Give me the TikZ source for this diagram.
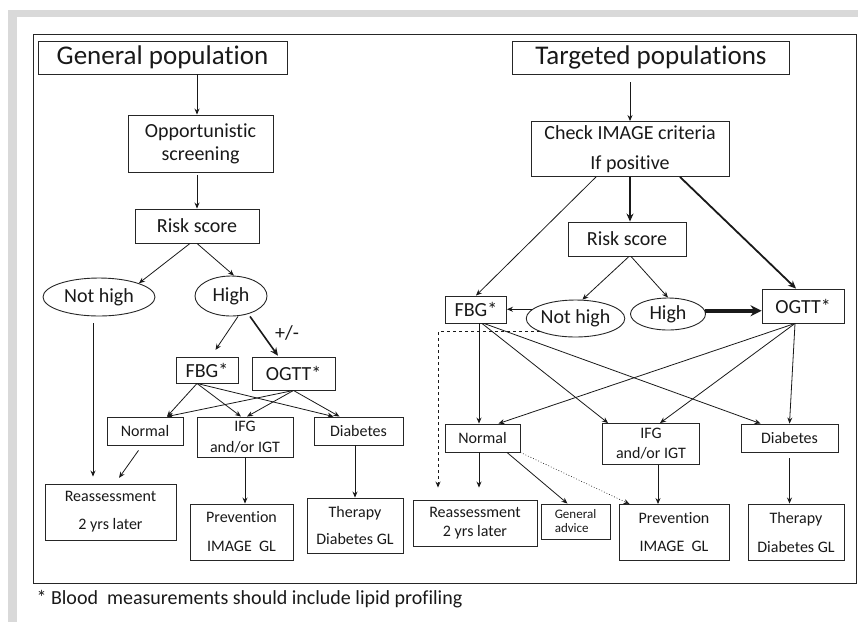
\documentclass[tikz,border=0pt]{standalone}
\usepackage{fontspec}
\setmainfont{Carlito}[Ligatures=NoCommon]
\usetikzlibrary{arrows.meta,shapes.geometric}

\tikzset{
  box/.style={draw=black!85, line width=.9pt, inner sep=0pt, align=center, text=black!90},
  oval/.style={ellipse, draw=black!85, line width=.9pt, inner sep=0pt, text=black!90},
  arr/.style={-{Stealth[length=6pt,width=5pt]}, line width=.8pt, draw=black!90},
  boldarr/.style={-{Stealth[length=8pt,width=7pt]}, line width=2pt, draw=black!90},
  fbig/.style={font=\fontsize{27}{32}\selectfont},
  fmid/.style={font=\fontsize{20}{23}\selectfont},
  fsml/.style={font=\fontsize{16}{20}\selectfont}
}

\begin{document}
\begin{tikzpicture}[x=1pt,y=-1pt]
\useasboundingbox (0,0) rectangle (858,622);
\fill[black!15] (8,10) rectangle (858,17);
\fill[black!15] (8,10) rectangle (16.5,622);
\draw[black!85, line width=1pt] (33,34) rectangle (856.5,583);

\node (genPop) [box, fbig, minimum width=249pt, minimum height=33pt] at (162.5,57.5) {General population};
\node (oppScr) [box, fmid, minimum width=145pt, minimum height=57pt] at (200.5,143.5) {Opportunistic\\screening};
\node (riskL) [box, fmid, minimum width=124pt, minimum height=34pt] at (197,226) {Risk score};
\node (notHighL) [oval, fmid, minimum width=112pt, minimum height=38pt] at (99,297) {Not high};
\node (highL) [oval, fmid, minimum width=72pt, minimum height=40pt] at (231,296) {High};
\node (fbgL) [box, fmid, minimum width=62pt, minimum height=26pt] at (207,370) {FBG*};
\node (ogttL) [box, fmid, minimum width=83pt, minimum height=33pt] at (293.5,373.5) {OGTT*};
\node (pm) [fmid, text=black!90] at (287,333) {+/-};
\node (normalL) [box, fsml, minimum width=76pt, minimum height=28pt] at (145,431) {Normal};
\node (ifgL) [box, font=\fontsize{16}{21}\selectfont, minimum width=96pt, minimum height=40pt] at (245,437) {IFG\\and/or IGT};
\node (diabL) [box, fsml, minimum width=89pt, minimum height=28pt] at (358.5,431) {Diabetes};
\node (reassL) [box, font=\fontsize{16}{28}\selectfont, minimum width=131pt, minimum height=56pt] at (110.5,512) {Reassessment\\2 yrs later};
\node (prevL) [box, font=\fontsize{16}{29}\selectfont, minimum width=103pt, minimum height=56pt] at (241.5,532) {Prevention\\IMAGE\ \ GL};
\node (therL) [box, font=\fontsize{16}{27}\selectfont, minimum width=96pt, minimum height=55pt] at (355,525.5) {Therapy\\Diabetes GL};

\draw[arr] (genPop.south -| riskL) -- (oppScr.north -| riskL);
\draw[arr, shorten <=3pt] (oppScr.south -| riskL) -- (riskL.north);
\draw[arr] ([xshift=-7pt]riskL.south) -- (notHighL.north east);
\draw[arr] (riskL.south) -- ([xshift=3pt]highL.north);
\draw[arr, shorten >=8pt] ([xshift=7pt]highL.south) -- ([xshift=4pt]fbgL.north);
\draw[boldarr, line width=1.6pt, shorten >=1pt] ([xshift=19pt]highL.south) -- ([xshift=27pt]ogttL.north west);
\draw[arr] ([xshift=-10pt]fbgL.south) -- ([xshift=22pt]normalL.north);
\draw[arr] ([xshift=-10pt]fbgL.south) -- ([xshift=-4pt]ifgL.north);
\draw[arr] ([xshift=-10pt]fbgL.south) -- ([xshift=-25pt]diabL.north);
\draw[arr] (ogttL.south) -- ([xshift=22pt]normalL.north);
\draw[arr] (ogttL.south) -- ([xshift=2pt]ifgL.north);
\draw[arr] (ogttL.south) -- ([xshift=-19pt]diabL.north);
\draw[arr, shorten <=7pt, shorten >=7pt] ([xshift=-6pt]notHighL.south) -- ([xshift=-17.5pt]reassL.north);
\draw[arr, shorten <=6pt, shorten >=7pt] ([xshift=-3pt]normalL.south) -- ([xshift=4.5pt]reassL.north);
\draw[arr] (ifgL.south) -- (prevL.north -| ifgL);
\draw[arr] (diabL.south -| therL) -- (therL.north);

\node (tgtPop) [box, fbig, minimum width=277pt, minimum height=33pt] at (651,57.5) {Targeted populations};
\node (check) [box, font=\fontsize{20}{30}\selectfont, minimum width=198pt, minimum height=55pt] at (630,149) {Check IMAGE criteria\\If positive};
\node (riskR) [box, fmid, minimum width=118pt, minimum height=34pt] at (627,239) {Risk score};
\node (fbgR) [box, fmid, minimum width=61pt, minimum height=27pt] at (476,309.5) {FBG*};
\node (notHighR) [oval, fmid, minimum width=97pt, minimum height=37pt] at (575.5,318.5) {Not high};
\node (highR) [oval, fmid, minimum width=75pt, minimum height=32pt] at (668,314) {High};
\node (ogttR) [box, fmid, minimum width=82pt, minimum height=34pt] at (803,306) {OGTT*};
\node (normalR) [box, fsml, minimum width=75pt, minimum height=28pt] at (482.5,438) {Normal};
\node (ifgR) [box, font=\fontsize{16}{20}\selectfont, minimum width=97pt, minimum height=41pt] at (651,444) {IFG\\and/or IGT};
\node (diabR) [box, fsml, minimum width=97pt, minimum height=28pt] at (789.5,438) {Diabetes};
\node (reassR) [box, font=\fontsize{16}{19}\selectfont, minimum width=124pt, minimum height=46pt] at (475,523) {Reassessment\\2 yrs later};
\node (advice) [box, font=\fontsize{13}{14}\selectfont, align=left, minimum width=69pt, minimum height=35pt] at (575.5,521.5) {General\\advice};
\node (prevR) [box, font=\fontsize{16}{28}\selectfont, minimum width=110pt, minimum height=56pt] at (674,532.5) {Prevention\\IMAGE\ \ GL};
\node (therR) [box, font=\fontsize{16}{29}\selectfont, minimum width=96pt, minimum height=56pt] at (796,532) {Therapy\\Diabetes GL};

\draw[arr, shorten <=8pt] (tgtPop.south -| check) -- (check.north);
\draw[boldarr, line width=2.6pt] (check.south) -- (check.south |- riskR.north);
\draw[arr] ([xshift=-34pt]check.south) -- (fbgR.north);
\draw[boldarr, line width=1.8pt] ([xshift=50pt]check.south) -- ([xshift=-7pt]ogttR.north);
\draw[arr] ([xshift=2pt]riskR.south) -- (notHighR.70);
\draw[arr] ([xshift=4pt]riskR.south) -- (highR.north);
\draw[arr] (notHighR.168) -- (notHighR.168 -| fbgR.east);
\draw[-{Stealth[length=11pt,width=11pt]}, line width=3.5pt, draw=black!90] (highR.5) -- (highR.5 -| ogttR.west);
\draw[arr, dashed, line width=1pt, shorten >=12pt] (notHighR.200) -| ([xshift=-37pt]reassR.north);
\draw[arr] ([xshift=3pt]fbgR.south) -- ([xshift=3pt]fbgR.south |- normalR.north);
\draw[arr] ([xshift=6pt]fbgR.south) -- ([xshift=6pt]ifgR.north west);
\draw[arr] ([xshift=8pt]fbgR.south) -- ([xshift=20pt]diabR.north west);
\draw[arr] ([xshift=-8pt]ogttR.south) -- ([xshift=-22pt]normalR.north east);
\draw[arr] ([xshift=-8pt]ogttR.south) -- ([xshift=9pt]ifgR.north);
\draw[arr] ([xshift=-8pt]ogttR.south) -- (diabR.north);
\draw[arr, shorten >=12pt] ([xshift=-3.5pt]normalR.south) -- ([xshift=-3.5pt]normalR.south |- reassR.north);
\draw[arr] ([xshift=24.5pt]normalR.south) -- ([xshift=-8pt]advice.north);
\draw[arr, dotted, line width=.6pt] (normalR.south east) -- ([xshift=11pt]prevR.north west);
\draw[arr] ([xshift=7pt]ifgR.south) -- ([xshift=7pt]ifgR.south |- prevR.north);
\draw[arr, shorten <=6pt] (diabR.south) -- (diabR.south |- therR.north);

\node (note) [fmid, anchor=west, text=black!90] at (33,599) {* Blood\ \ measurements should include lipid profiling};
\end{tikzpicture}
\end{document}
